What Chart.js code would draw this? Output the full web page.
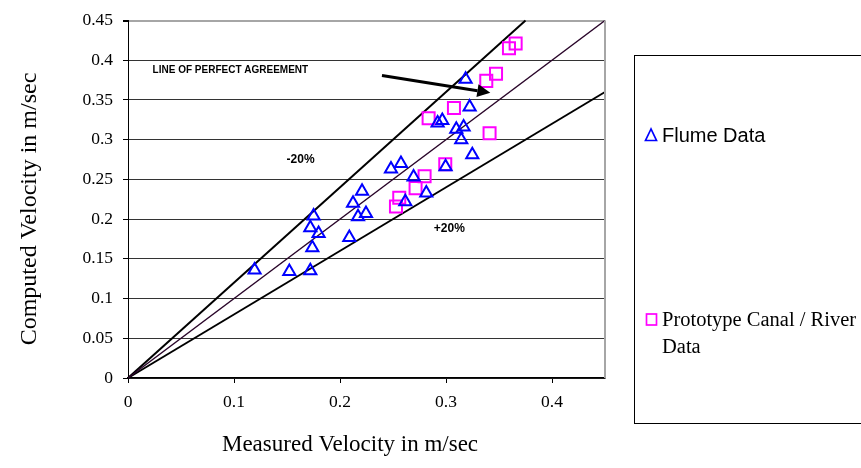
<!DOCTYPE html>
<html>
<head>
<meta charset="utf-8">
<script src="https://cdn.jsdelivr.net/npm/chart.js@4.4.1/dist/chart.umd.min.js"></script>
<style>
  html, body { margin: 0; padding: 0; background: #fff; }
  #wrap { width: 861px; height: 468px; }
</style>
</head>
<body>
<div id="wrap"><canvas id="chart" width="861" height="468"></canvas></div>
<script>
// ── Dados ──
const flumeMeasured = [0.1194, 0.1522, 0.1720, 0.1751, 0.1720, 0.1798, 0.1739, 0.2088, 0.2123,
                       0.2208, 0.2170, 0.2245, 0.2616, 0.2481, 0.2575, 0.2694, 0.2814, 0.2996,
                       0.3248, 0.2921, 0.2965, 0.3097, 0.3166, 0.3144, 0.3223, 0.3185];
const flumeComputed = [0.136, 0.134, 0.135, 0.204, 0.189, 0.182, 0.164, 0.177, 0.220,
                       0.235, 0.203, 0.207, 0.222, 0.263, 0.270, 0.253, 0.233, 0.266,
                       0.281, 0.321, 0.324, 0.313, 0.316, 0.300, 0.341, 0.376];
const protoMeasured = [0.3657, 0.3594, 0.3472, 0.3380, 0.3075, 0.2836, 0.3411, 0.2993,
                       0.2798, 0.2713, 0.2559, 0.2528];
const protoComputed = [0.421, 0.415, 0.383, 0.374, 0.340, 0.327, 0.308, 0.269,
                       0.254, 0.239, 0.227, 0.216];

// linhas de referência
const agreeX = [0, 0.45],   agreeY = [0, 0.45];
const minus20X = [0, 0.375], minus20Y = [0, 0.45];
const plus20X = [0, 0.45],  plus20Y = [0, 0.36];
const arrowX = [0.2396, 0.3418], arrowY = [0.3809, 0.3591];

const xTicks = [0, 0.1, 0.2, 0.3, 0.4];
const yTicks = [0, 0.05, 0.1, 0.15, 0.2, 0.25, 0.3, 0.35, 0.4, 0.45];

const serif = "'Liberation Serif', 'Times New Roman', serif";
const sans = "'Liberation Sans', Arial, sans-serif";

const pts = (xs, ys) => xs.map((x, i) => ({ x: x, y: ys[i] }));

// ── Textos, seta, legenda e títulos ──
const extras = {
    id: 'extras',
    afterDraw(chart) {
        const ctx = chart.ctx;
        const xs = chart.scales.x, ys = chart.scales.y;
        const area = chart.chartArea;
        ctx.save();

        // borda direita cinza
        ctx.strokeStyle = '#a6a6a6';
        ctx.lineWidth = 2;
        ctx.beginPath();
        ctx.moveTo(area.right, area.top);
        ctx.lineTo(area.right, area.bottom);
        ctx.stroke();

        // seta
        const x0 = xs.getPixelForValue(arrowX[0]), y0 = ys.getPixelForValue(arrowY[0]);
        const x1 = xs.getPixelForValue(arrowX[1]), y1 = ys.getPixelForValue(arrowY[1]);
        const a = Math.atan2(y1 - y0, x1 - x0);
        const hl = 13, hw = 6.5;
        const bx = x1 - hl * Math.cos(a), by = y1 - hl * Math.sin(a);
        ctx.strokeStyle = '#000';
        ctx.fillStyle = '#000';
        ctx.lineWidth = 3;
        ctx.beginPath();
        ctx.moveTo(x0, y0);
        ctx.lineTo(bx, by);
        ctx.stroke();
        ctx.beginPath();
        ctx.moveTo(x1, y1);
        ctx.lineTo(bx - hw * Math.sin(a), by + hw * Math.cos(a));
        ctx.lineTo(bx + hw * Math.sin(a), by - hw * Math.cos(a));
        ctx.closePath();
        ctx.fill();

        // rótulos
        ctx.fillStyle = '#000';
        ctx.textBaseline = 'middle';
        ctx.font = 'bold 10px ' + sans;
        ctx.textAlign = 'left';
        ctx.fillText('LINE OF PERFECT AGREEMENT', xs.getPixelForValue(0.0232), ys.getPixelForValue(0.388));
        ctx.font = 'bold 12px ' + sans;
        ctx.textAlign = 'center';
        ctx.fillText('-20%', xs.getPixelForValue(0.1628), ys.getPixelForValue(0.2752));
        ctx.fillText('+20%', xs.getPixelForValue(0.3031), ys.getPixelForValue(0.1884));

        // títulos dos eixos
        ctx.font = '23px ' + serif;
        ctx.textBaseline = 'alphabetic';
        ctx.fillText('Measured Velocity in m/sec', 350, 451);
        ctx.save();
        ctx.translate(30, 209);
        ctx.rotate(-Math.PI / 2);
        ctx.font = '24px ' + serif;
        ctx.textBaseline = 'middle';
        ctx.fillText('Computed Velocity in m/sec', 0, 0);
        ctx.restore();

        // legenda
        ctx.strokeStyle = '#000';
        ctx.lineWidth = 1;
        ctx.strokeRect(634.5, 55.5, 300, 368);

        ctx.strokeStyle = '#0000ff';
        ctx.lineWidth = 1.7;
        ctx.beginPath();
        ctx.moveTo(651, 129);
        ctx.lineTo(645.5, 140.5);
        ctx.lineTo(656.5, 140.5);
        ctx.closePath();
        ctx.stroke();

        ctx.strokeStyle = '#ff00ff';
        ctx.strokeRect(646.5, 314, 10, 11);

        ctx.fillStyle = '#000';
        ctx.textAlign = 'left';
        ctx.textBaseline = 'alphabetic';
        ctx.font = '20px ' + sans;
        ctx.fillText('Flume Data', 662, 141.5);
        ctx.font = '20.5px ' + serif;
        ctx.fillText('Prototype Canal / River', 662, 326);
        ctx.fillText('Data', 662, 352.5);

        ctx.restore();
    }
};

new Chart(document.getElementById('chart'), {
    type: 'scatter',
    data: {
        datasets: [
            {
                label: 'Flume Data',
                data: pts(flumeMeasured, flumeComputed),
                pointStyle: 'triangle',
                pointRadius: 7,
                borderColor: '#0000ff',
                backgroundColor: 'rgba(0,0,0,0)',
                borderWidth: 2
            },
            {
                label: 'Prototype Canal / River Data',
                data: pts(protoMeasured, protoComputed),
                pointStyle: 'rect',
                pointRadius: 8.5,
                borderColor: '#ff00ff',
                backgroundColor: 'rgba(0,0,0,0)',
                borderWidth: 2
            },
            {
                label: 'agree',
                data: pts(agreeX, agreeY),
                showLine: true,
                pointRadius: 0,
                borderColor: '#2a062a',
                borderWidth: 1.5,
                clip: false
            },
            {
                label: '-20%',
                data: pts(minus20X, minus20Y),
                showLine: true,
                pointRadius: 0,
                borderColor: '#000',
                borderWidth: 2,
                clip: false
            },
            {
                label: '+20%',
                data: pts(plus20X, plus20Y),
                showLine: true,
                pointRadius: 0,
                borderColor: '#000',
                borderWidth: 2,
                clip: false
            }
        ]
    },
    options: {
        responsive: false,
        animation: false,
        events: [],
        layout: { padding: { left: 0, top: 15, right: 256, bottom: 0 } },
        plugins: { legend: { display: false }, tooltip: { enabled: false } },
        scales: {
            x: {
                type: 'linear',
                min: 0,
                max: 0.45,
                afterBuildTicks: s => { s.ticks = xTicks.map(v => ({ value: v })); },
                afterFit: s => { s.height = 90; },
                ticks: {
                    autoSkip: false,
                    maxRotation: 0,
                    padding: 9,
                    color: '#000',
                    font: { family: serif, size: 17.5 },
                    callback: v => String(v)
                },
                grid: { drawOnChartArea: false, drawTicks: true, tickLength: 5, tickColor: '#000' },
                border: { display: true, color: '#000', width: 1.5 }
            },
            y: {
                type: 'linear',
                min: 0,
                max: 0.45,
                afterBuildTicks: s => { s.ticks = yTicks.map(v => ({ value: v })); },
                afterFit: s => { s.width = 128; },
                ticks: {
                    autoSkip: false,
                    padding: 10,
                    color: '#000',
                    font: { family: serif, size: 17.5 },
                    callback: v => String(v)
                },
                grid: {
                    color: c => (c.tick && c.tick.value >= 0.449) ? '#a6a6a6' : '#333333',
                    lineWidth: c => (c.tick && c.tick.value >= 0.449) ? 2 : 1,
                    drawTicks: true,
                    tickLength: 5,
                    tickColor: '#000'
                },
                border: { display: true, color: '#000', width: 1 }
            }
        }
    },
    plugins: [extras]
});
</script>
</body>
</html>
